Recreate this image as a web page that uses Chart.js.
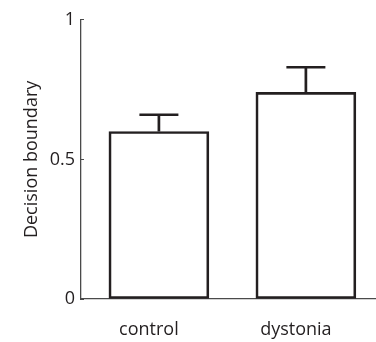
<!DOCTYPE html>
<html>
<head>
<meta charset="utf-8">
<script src="https://cdn.jsdelivr.net/npm/chart.js@4"></script>
<style>
  body { margin: 0; background: #fff; }
  canvas { display: block; }
</style>
</head>
<body>
<canvas id="boundaryChart" width="376" height="342"></canvas>
<script>
var categories = ['control', 'dystonia'];
var boundary = [0.60, 0.74];
var boundaryErr = [0.06, 0.09];
var yTicks = [0, 0.5, 1];

var ink = '#231f20';

// upward-only error bars with a cap, drawn through the y scale
var errorBars = {
    id: 'errorBars',
    afterDatasetsDraw: function(chart) {
        var ctx = chart.ctx;
        var yScale = chart.scales.y;
        var meta = chart.getDatasetMeta(0);
        ctx.save();
        ctx.strokeStyle = ink;
        ctx.lineWidth = 2.7;
        meta.data.forEach(function(bar, i) {
            var yTop = yScale.getPixelForValue(boundary[i] + boundaryErr[i]);
            var yBase = yScale.getPixelForValue(boundary[i]);
            ctx.beginPath();
            ctx.moveTo(bar.x, yBase);
            ctx.lineTo(bar.x, yTop);
            ctx.moveTo(bar.x - 19.5, yTop);
            ctx.lineTo(bar.x + 19.5, yTop);
            ctx.stroke();
        });
        ctx.restore();
    }
};

Chart.defaults.font.family = "'Open Sans', sans-serif";
Chart.defaults.font.size = 18;
Chart.defaults.color = ink;

var context = document.getElementById('boundaryChart').getContext('2d');
var myChart = new Chart(context, {
    type: 'bar',
    data: {
        datasets: [{
            data: boundary.map(function(v, i) { return { x: i, y: v }; }),
            backgroundColor: '#ffffff',
            borderColor: ink,
            borderWidth: 2.7,
            borderSkipped: false,
            barThickness: 100
        }]
    },
    options: {
        responsive: false,
        animation: false,
        layout: { padding: { top: 17, right: 0, bottom: 0, left: 0 } },
        plugins: {
            legend: { display: false },
            tooltip: { enabled: false }
        },
        scales: {
            x: {
                type: 'linear',
                offset: false,
                min: -0.53,
                max: 1.477,
                afterBuildTicks: function(scale) {
                    scale.ticks = categories.map(function(c, i) { return { value: i }; });
                },
                afterFit: function(scale) { scale.height = 43; },
                ticks: {
                    padding: 12,
                    labelOffset: -10,
                    maxRotation: 0,
                    callback: function(v) { return categories[v]; }
                },
                grid: { display: false },
                border: { display: true, color: '#4a4a4a', width: 1.3 }
            },
            y: {
                min: 0,
                max: 1,
                afterBuildTicks: function(scale) {
                    scale.ticks = yTicks.map(function(v) { return { value: v }; });
                },
                afterFit: function(scale) { scale.width = 81; },
                ticks: {
                    padding: 9,
                    callback: function(v) { return String(v); }
                },
                grid: {
                    drawOnChartArea: false,
                    drawTicks: true,
                    tickLength: -3,
                    color: '#4a4a4a',
                    lineWidth: 1
                },
                border: { display: true, color: '#4a4a4a', width: 1.3 },
                title: {
                    display: true,
                    text: 'Decision boundary',
                    font: { size: 18 },
                    padding: { top: 21, bottom: 0 }
                }
            }
        }
    },
    plugins: [errorBars]
});
</script>
</body>
</html>
